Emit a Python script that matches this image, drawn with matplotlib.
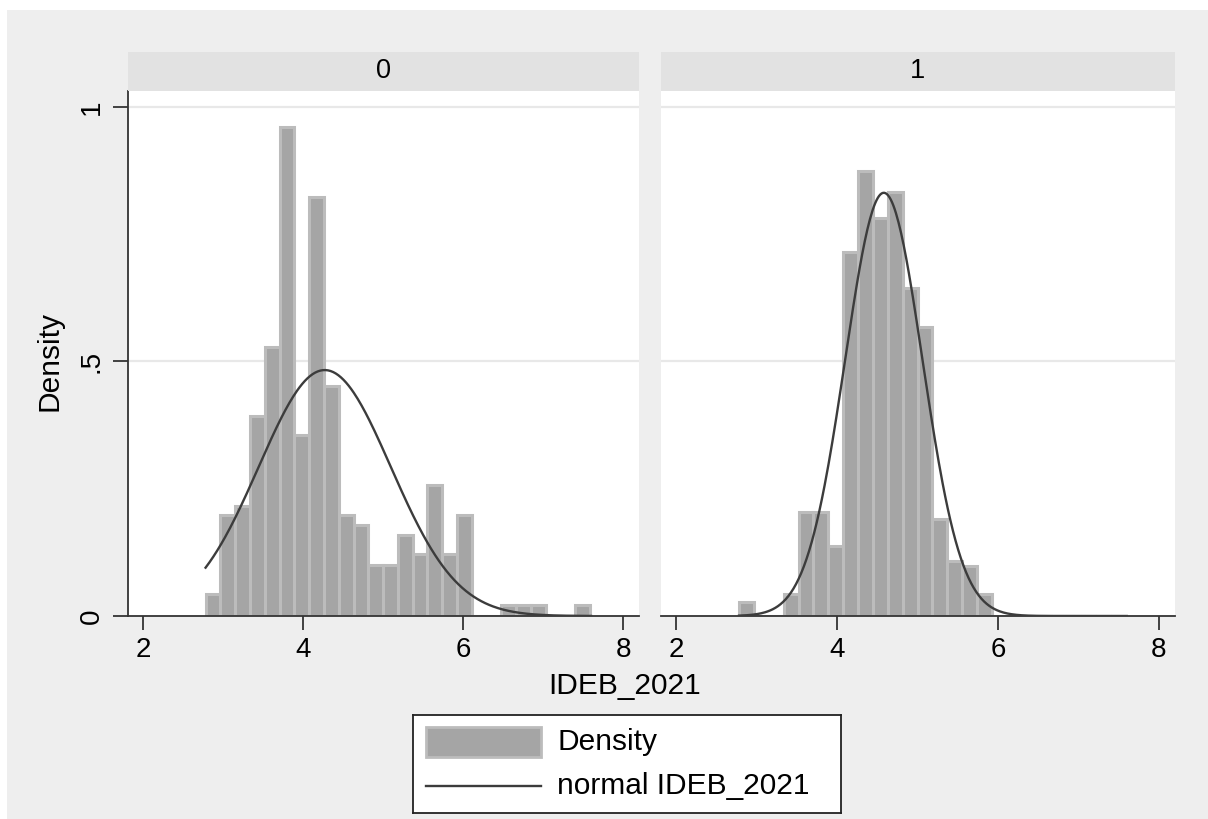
import numpy as np
import matplotlib.pyplot as plt
from matplotlib.patches import Rectangle
from matplotlib.lines import Line2D

plt.rcParams['font.family'] = ['Liberation Sans', 'DejaVu Sans']

# histogram bins shared by both groups (Stata uses the overall range)
bin_start = 2.78
bin_width = 0.185

groups = ["0", "1"]
density_0 = [0.043, 0.199, 0.217, 0.393, 0.529, 0.961, 0.355, 0.822, 0.451, 0.199,
             0.178, 0.100, 0.100, 0.159, 0.122, 0.257, 0.122, 0.199, 0.0, 0.0,
             0.022, 0.022, 0.022, 0.0, 0.0, 0.022]
density_1 = [0.027, 0.0, 0.0, 0.044, 0.204, 0.204, 0.138, 0.714, 0.874, 0.781,
             0.833, 0.645, 0.567, 0.190, 0.108, 0.098, 0.044, 0.0, 0.0, 0.0,
             0.0, 0.0, 0.0, 0.0, 0.0, 0.0]
# normal overlay parameters (mean, sd)
normal_mean = [4.27, 4.58]
normal_sd = [0.826, 0.48]
data_min, data_max = 2.78, 7.6

x_ticks = [2, 4, 6, 8]
y_ticks = [0, 0.5, 1]
y_tick_labels = ["0", ".5", "1"]

W, H = 1208, 819
BG = '#eeeeee'
BAR = '#a5a5a5'
BAR_EDGE = '#bcbcbc'
LINE = '#3c3c3c'
AX = '#333333'

fig = plt.figure(figsize=(W / 100, H / 100), dpi=100)
fig.patch.set_facecolor('white')
fig.patches.append(Rectangle((7 / W, 0), 1, 1 - 10 / H, transform=fig.transFigure,
                             facecolor=BG, edgecolor='none', zorder=-10))


def px_axes(x0, y0, x1, y1):
    return fig.add_axes([x0 / W, 1 - y1 / H, (x1 - x0) / W, (y1 - y0) / H])


panels = [(128, 639), (661, 1175)]
series = [density_0, density_1]
edges = bin_start + bin_width * np.arange(len(density_0))

for i, (x0, x1) in enumerate(panels):
    ax = px_axes(x0, 91, x1, 616)
    ax.set_facecolor('white')
    ax.set_xlim(1.81, 8.2)
    ax.set_ylim(0, 1.031)
    for g in [0.5, 1.0]:
        ax.axhline(g, color='#e8e8e8', lw=1.6, zorder=0)
    ax.bar(edges, series[i], width=bin_width, align='edge', color=BAR,
           edgecolor=BAR_EDGE, linewidth=2.2, zorder=2)
    xs = np.linspace(data_min, data_max, 300)
    mu, sd = normal_mean[i], normal_sd[i]
    ax.plot(xs, np.exp(-0.5 * ((xs - mu) / sd) ** 2) / (sd * np.sqrt(2 * np.pi)),
            color=LINE, lw=1.7, zorder=3)

    for s in ['top', 'right']:
        ax.spines[s].set_visible(False)
    ax.spines['bottom'].set_color(AX)
    ax.spines['bottom'].set_linewidth(1.3)
    ax.set_xticks(x_ticks)
    ax.tick_params(axis='x', length=10, width=1.3, color=AX, labelsize=20, pad=5)
    if i == 0:
        ax.spines['left'].set_color(AX)
        ax.spines['left'].set_linewidth(1.3)
        ax.set_yticks(y_ticks)
        ax.set_yticklabels(y_tick_labels, rotation=90, va='center')
        ax.tick_params(axis='y', length=11, width=1.3, color=AX, labelsize=20, pad=6)
    else:
        ax.spines['left'].set_visible(False)
        ax.set_yticks([])

    # facet strip
    sx = px_axes(x0, 52, x1, 91)
    sx.set_facecolor('#e2e2e2')
    sx.set_xticks([])
    sx.set_yticks([])
    for s in sx.spines.values():
        s.set_visible(False)
    sx.text(0.5, 0.5, groups[i], ha='center', va='center', fontsize=19.5,
            transform=sx.transAxes)

fig.text(50 / W, 1 - 361 / H, "Density", rotation=90, ha='center', va='center',
         fontsize=21.5)
fig.text(625 / W, 1 - 686 / H, "IDEB_2021", ha='center', va='center', fontsize=21.5)

# legend box
lax = px_axes(413, 715, 841, 813)
lax.set_xlim(413, 841)
lax.set_ylim(813, 715)
lax.set_facecolor('white')
lax.set_xticks([])
lax.set_yticks([])
for s in lax.spines.values():
    s.set_color('#222222')
    s.set_linewidth(1.3)
lax.add_patch(Rectangle((426, 727), 115, 30, facecolor=BAR, edgecolor=BAR_EDGE, lw=2))
lax.add_line(Line2D([426, 541], [786, 786], color=LINE, lw=1.7))
lax.text(557, 742, "Density", va='center', ha='left', fontsize=21.5)
lax.text(557, 786, "normal IDEB_2021", va='center', ha='left', fontsize=21.5)

fig.savefig("out.png", dpi=100, facecolor=fig.get_facecolor())
